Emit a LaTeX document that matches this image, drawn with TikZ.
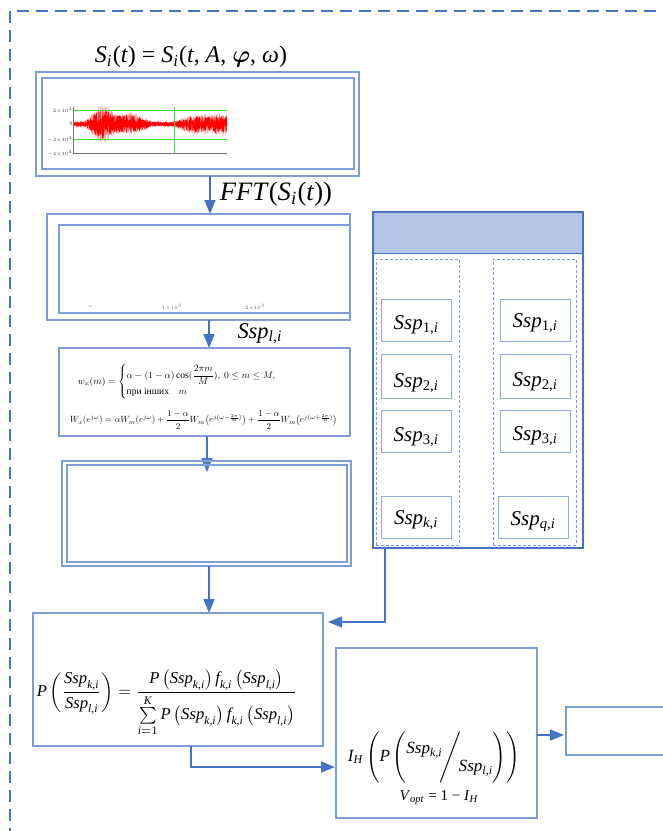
\documentclass[tikz,border=0pt]{standalone}
\usepackage{amsmath,amssymb}
\usepackage{graphicx}
\usepackage{fontspec}
\setmainfont{Liberation Serif}
\usetikzlibrary{arrows.meta}
\definecolor{dblue}{HTML}{4472C4}
\definecolor{bblue}{HTML}{7C9CDA}
\definecolor{sblue}{HTML}{8FAADC}
\definecolor{hdrfill}{HTML}{B4C4E6}
\definecolor{gridgreen}{HTML}{33DD33}
\newcommand\mySk{\textit{Ssp}_{\textit{k,i}}}
\newcommand\mySl{\textit{Ssp}_{\textit{l,i}}}
\newcommand\myP{\textit{P}}
\newcommand\myf{\textit{f}_{\textit{k,i}}}
\newcommand\sspt[1]{\textit{Ssp}\textsubscript{#1}}
\begin{document}
\begin{tikzpicture}[x=1pt,y=-1pt,
  declare function={env(\u)=2+17*exp(max(-9,-((\u-102)/12)^2))+10*exp(max(-9,-((\u-130)/16)^2))+9/(1+exp(min(9,-(\u-182)/5)));},
  box/.style={draw=bblue,line width=1.1pt,inner sep=0pt,outer sep=0pt},
  sbox/.style={draw=sblue,line width=1pt,inner sep=0pt,outer sep=0pt,minimum width=70pt},
  grp/.style={draw=bblue,dash pattern=on 3pt off 2pt,line width=0.8pt,inner sep=0pt,outer sep=0pt,minimum width=83pt,minimum height=286pt},
  arr/.style={draw=dblue,line width=1.6pt,-{Triangle[length=14pt,width=11pt]}},
  stxt/.style={font=\fontsize{21}{23}\selectfont,inner sep=0pt},
  tick/.style={font=\fontsize{5.5}{6}\selectfont,inner sep=0.5pt,anchor=east,text=black!75},
  tiny/.style={font=\fontsize{3}{3.5}\selectfont,inner sep=0pt,text=black!60},
]
\useasboundingbox (0,0) rectangle (663,831);
\clip (0,0) rectangle (663,831);
\fill[white] (0,0) rectangle (663,831);

% outer dashed frame
\draw[dblue,line width=2pt,dash pattern=on 12pt off 7pt] (10,840) -- (10,11) -- (680,11);

% title
\node (title) at (191,57) {\resizebox{192pt}{!}{\textit{S}\textsubscript{\textit{i}}(\textit{t}) = \textit{S}\textsubscript{\textit{i}}(\textit{t}, \textit{A}, $\boldsymbol{\varphi}$, \textit{ω})}};

% box 1 with signal chart
\node[box,minimum width=323pt,minimum height=104pt] (b1o) at (197.5,124) {};
\node[box,minimum width=312pt,minimum height=91pt] (b1i) at (198,123.5) {};
\pgfmathsetseed{7}
\draw[red!40,line width=0.5pt] plot[variable=\t,samples=771,domain=0:770]
  ({73+0.2*\t},{124-env(73+0.2*\t)*(mod(round(\t),2)*2-1)*(0.6+0.4*rand)});
\draw[red,line width=0.5pt] plot[variable=\t,samples=771,domain=0:770]
  ({73+0.2*\t},{124-0.8*env(73+0.2*\t)*(mod(round(\t),2)*2-1)*(0.55+0.45*rand)});
\draw[gridgreen,line width=0.6pt] (73,110) -- (227,110);
\draw[gridgreen,line width=0.6pt] (73,139) -- (227,139);
\draw[gridgreen,line width=0.6pt] (174,107) -- (174,153);
\draw[black!55,line width=0.7pt] (73,107) -- (73,153) -- (227,153);
\node[tick] (t1) at (73,110) {$2{\times}10^4$};
\node[tick] (t2) at (73,124) {0};
\node[tick] (t3) at (73,139) {$-2{\times}10^4$};
\node[tick] (t4) at (73,153) {$-4{\times}10^4$};

% FFT arrow
\coordinate (a1s) at (210,176);
\coordinate (a1e) at (210,214);
\draw[arr] (a1s) -- (a1e);
\node (fft) at (276,194) {\resizebox{112pt}{!}{\textit{FFT}(\textit{S}\textsubscript{\textit{i}}(\textit{t}))}};

% box 2 (spectrum)
\node[box,minimum width=303pt,minimum height=106pt] (b2o) at (198.5,267) {};
\node[box,minimum width=291pt,minimum height=88pt] (b2i) at (204.5,269) {};
\node[tiny] (s1) at (90,307) {50};
\node[tiny] (s2) at (172,307) {$1{\times}10^3$};
\node[tiny] (s3) at (255,307) {$2{\times}10^3$};

% arrow 2
\coordinate (a2s) at (209,320);
\coordinate (a2e) at (209,348);
\draw[arr] (a2s) -- (a2e);
\node (sspl) at (260,334) {\resizebox{45pt}{!}{\sspt{\textit{l},\textit{i}}}};

% box 3 (window)
\node[box,minimum width=291pt,minimum height=88pt] (b3) at (204.5,392) {};
\node[inner sep=0pt] (w1) at (182,382) {\resizebox{208pt}{!}{$w_x(m)=\begin{cases}\alpha-(1-\alpha)\cos(\dfrac{2\pi m}{M}),\ 0\le m\le M,\\[2pt] \text{при інших}\quad m\end{cases}$}};
\node[inner sep=0pt] (w2) at (203.5,420) {\resizebox{267pt}{!}{$W_x(e^{j\omega})=\alpha W_m(e^{j\omega})+\dfrac{1-\alpha}{2}W_m\bigl(e^{j(\omega-\frac{2\pi}{M})}\bigr)+\dfrac{1-\alpha}{2}W_m\bigl(e^{j(\omega+\frac{2\pi}{M})}\bigr)$}};

% arrow 3
\coordinate (a3s) at (207,436);
\coordinate (a3e) at (207,472);
\draw[arr] (a3s) -- (a3e);

% box 4
\node[box,minimum width=289pt,minimum height=105pt] (b4o) at (206.5,513.5) {};
\node[box,minimum width=280pt,minimum height=97pt] (b4i) at (207,513.5) {};

% arrow 4
\coordinate (a4s) at (209,566);
\coordinate (a4e) at (209,613);
\draw[arr] (a4s) -- (a4e);

% box 5 (Bayes)
\node[box,minimum width=290pt,minimum height=133pt] (b5) at (178,679.5) {};
\node[inner sep=0pt] (bayes) at (167,703) {\resizebox{260pt}{!}{$\displaystyle \myP\left(\frac{\mySk}{\mySl}\right)=\frac{\myP\left(\mySk\right)\myf\left(\mySl\right)}{\sum\limits_{\textit{i}=1}^{\textit{K}}\myP\left(\mySk\right)\myf\left(\mySl\right)}$}};

% right container
\node[fill=hdrfill,draw=dblue,line width=1pt,inner sep=0pt,outer sep=0pt,minimum width=210pt,minimum height=41pt] (hdr) at (478,232.5) {};
\node[draw=dblue,line width=1.3pt,inner sep=0pt,outer sep=0pt,minimum width=210pt,minimum height=336pt] (cont) at (478,380) {};
\node[grp] (gl) at (417.5,402) {};
\node[grp] (gr) at (534.5,402) {};

\node[sbox,minimum height=42pt] (L1) at (416,320) {};
\node[sbox,minimum height=44pt] (L2) at (416,376) {};
\node[sbox,minimum height=42pt] (L3) at (416,431) {};
\node[sbox,minimum height=42pt] (Lk) at (416,517) {};
\node[sbox,minimum height=42pt] (R1) at (535,320) {};
\node[sbox,minimum height=44pt] (R2) at (535,376) {};
\node[sbox,minimum height=42pt] (R3) at (535,431) {};
\node[sbox,minimum height=42pt] (Rq) at (533,517) {};

\node[stxt] (L1t) at ([yshift=-5pt]L1.center) {\sspt{1,\textit{i}}};
\node[stxt] (L2t) at ([yshift=-7pt]L2.center) {\sspt{2,\textit{i}}};
\node[stxt] (L3t) at ([yshift=-6pt]L3.center) {\sspt{3,\textit{i}}};
\node[stxt] (Lkt) at ([yshift=-3pt]Lk.center) {\sspt{\textit{k},\textit{i}}};
\node[stxt] (R1t) at ([yshift=-3pt]R1.center) {\sspt{1,\textit{i}}};
\node[stxt] (R2t) at ([yshift=-6pt]R2.center) {\sspt{2,\textit{i}}};
\node[stxt] (R3t) at ([yshift=-5pt]R3.center) {\sspt{3,\textit{i}}};
\node[stxt] (Rqt) at ([yshift=-5pt]Rq.center) {\sspt{\textit{q},\textit{i}}};

% connector container -> box 5
\coordinate (c5s) at (385,548);
\coordinate (c5e) at (328,622);
\draw[arr] (c5s) |- (c5e);

% box 6 (entropy)
\node[box,minimum width=201pt,minimum height=170pt] (b6) at (436.5,733) {};
\node[inner sep=0pt] (ent) at (434,757) {\resizebox{172pt}{!}{$\displaystyle \textit{I}_{\textit{H}}\left(\myP\left(\raisebox{1.0ex}{\textit{Ssp}\textsubscript{\textit{k,i}}}\!\Bigg/\!\raisebox{-1.3ex}{\textit{Ssp}\textsubscript{\textit{l,i}}}\right)\right)$}};
\node[inner sep=0pt] (vopt) at (439,798) {\resizebox{79pt}{!}{\textit{V}\textsubscript{\textit{opt}} = 1 − \textit{I}\textsubscript{\textit{H}}}};

% connector box 5 -> box 6
\coordinate (c6s) at (191,746);
\coordinate (c6e) at (335,767);
\draw[arr] (c6s) |- (c6e);

% box 7
\node[box,minimum width=130pt,minimum height=48pt] (b7) at (631,731) {};
\coordinate (c7s) at (537,735);
\coordinate (c7e) at (564,735);
\draw[arr] (c7s) -- (c7e);
\end{tikzpicture}
\end{document}
